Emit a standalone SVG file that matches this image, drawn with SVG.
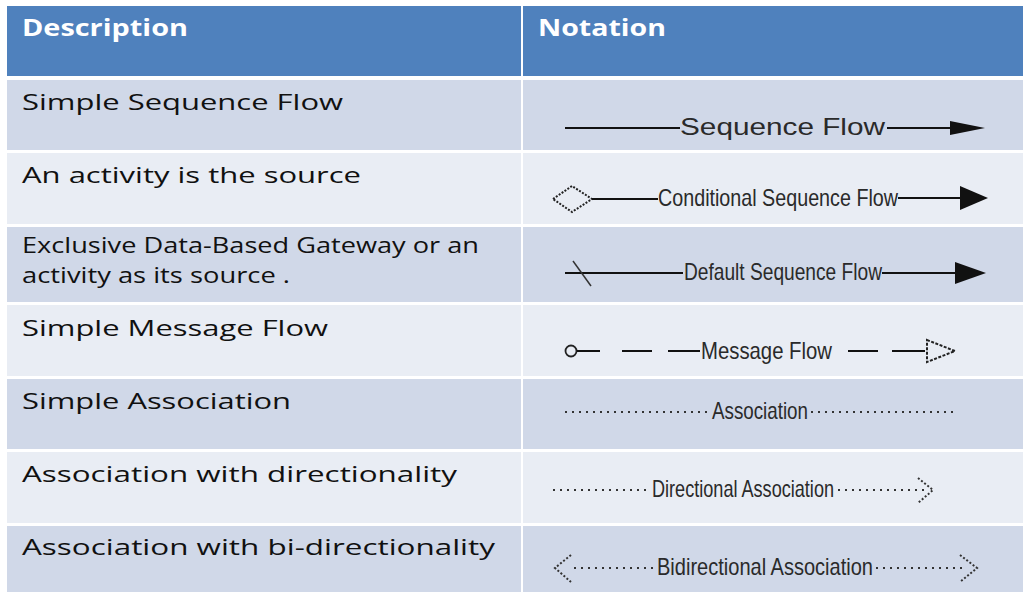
<svg xmlns="http://www.w3.org/2000/svg" width="1025" height="592" viewBox="0 0 1025 592">
<style>
.hdr{fill:#4f81bd}
.dark{fill:#d0d8e8}
.light{fill:#e9edf4}
.ht{font-family:"Open Sans","Liberation Sans",sans-serif;font-weight:bold;font-size:23px;fill:#fff}
.dt{font-family:"Open Sans","Liberation Sans",sans-serif;font-size:22px;fill:#111}
.nt{font-family:"Liberation Sans",Arial,sans-serif;font-size:24px;fill:#2a2a2a}
.ln{stroke:#111;stroke-width:2;fill:none}
.dot{stroke:#333;stroke-width:1.8;fill:none;stroke-dasharray:2 5}
.dotarr{stroke:#333;stroke-width:2;fill:none;stroke-dasharray:2 2}
</style>
<rect x="0" y="0" width="1025" height="592" fill="#fff"/>
<g id="header">
<rect class="hdr" x="7" y="6" width="514" height="70"/>
<rect class="hdr" x="523" y="6" width="500" height="70"/>
<text class="ht" x="22" y="36" textLength="166" lengthAdjust="spacingAndGlyphs">Description</text>
<text class="ht" x="538" y="36" textLength="128" lengthAdjust="spacingAndGlyphs">Notation</text>
</g>
<g id="row1">
<rect class="dark" x="7" y="80" width="514" height="70"/>
<rect class="dark" x="523" y="80" width="500" height="70"/>
<text class="dt" x="22" y="110" textLength="321" lengthAdjust="spacingAndGlyphs">Simple Sequence Flow</text>
</g>
<g id="row2">
<rect class="light" x="7" y="153" width="514" height="71"/>
<rect class="light" x="523" y="153" width="500" height="71"/>
<text class="dt" x="22" y="183" textLength="339" lengthAdjust="spacingAndGlyphs">An activity is the source</text>
</g>
<g id="row3">
<rect class="dark" x="7" y="227" width="514" height="75"/>
<rect class="dark" x="523" y="227" width="500" height="75"/>
<text class="dt" x="22" y="253" font-size="20" textLength="457" lengthAdjust="spacingAndGlyphs">Exclusive Data-Based Gateway or an</text>
<text class="dt" x="22" y="283" font-size="20" textLength="268" lengthAdjust="spacingAndGlyphs">activity as its source .</text>
</g>
<g id="row4">
<rect class="light" x="7" y="305" width="514" height="71"/>
<rect class="light" x="523" y="305" width="500" height="71"/>
<text class="dt" x="22" y="336" textLength="306" lengthAdjust="spacingAndGlyphs">Simple Message Flow</text>
</g>
<g id="row5">
<rect class="dark" x="7" y="379" width="514" height="70"/>
<rect class="dark" x="523" y="379" width="500" height="70"/>
<text class="dt" x="22" y="409" textLength="269" lengthAdjust="spacingAndGlyphs">Simple Association</text>
</g>
<g id="row6">
<rect class="light" x="7" y="452" width="514" height="71"/>
<rect class="light" x="523" y="452" width="500" height="71"/>
<text class="dt" x="22" y="482" textLength="435" lengthAdjust="spacingAndGlyphs">Association with directionality</text>
</g>
<g id="row7">
<rect class="dark" x="7" y="526" width="514" height="66"/>
<rect class="dark" x="523" y="526" width="500" height="66"/>
<text class="dt" x="22" y="555" textLength="473" lengthAdjust="spacingAndGlyphs">Association with bi-directionality</text>
</g>
<g id="notation-labels">
<text class="nt" x="680" y="135" font-size="22" textLength="205" lengthAdjust="spacingAndGlyphs">Sequence Flow</text>
<text class="nt" x="658" y="206" textLength="240" lengthAdjust="spacingAndGlyphs">Conditional Sequence Flow</text>
<text class="nt" x="684" y="280" textLength="198" lengthAdjust="spacingAndGlyphs">Default Sequence Flow</text>
<text class="nt" x="701" y="359" textLength="131" lengthAdjust="spacingAndGlyphs">Message Flow</text>
<text class="nt" x="712" y="419" textLength="96" lengthAdjust="spacingAndGlyphs">Association</text>
<text class="nt" x="652" y="497" textLength="182" lengthAdjust="spacingAndGlyphs">Directional Association</text>
<text class="nt" x="657" y="575" textLength="216" lengthAdjust="spacingAndGlyphs">Bidirectional Association</text>
</g>
<g id="connectors">
<line class="ln" x1="565" y1="128" x2="680" y2="128"/>
<line class="ln" x1="887" y1="128" x2="952" y2="128"/>
<path d="M950,121 L985,128 L950,135 z" fill="#111"/>
<path d="M553,199 L572,186 L592,199 L572,212 z" fill="none" stroke="#222" stroke-width="2" stroke-dasharray="2 1.5"/>
<line class="ln" x1="592" y1="199" x2="658" y2="199"/>
<line class="ln" x1="898" y1="198" x2="962" y2="198"/>
<path d="M960,186 L988,198 L960,210 z" fill="#111"/>
<line class="ln" x1="565" y1="273" x2="683" y2="273"/>
<line x1="573" y1="261" x2="591" y2="286" stroke="#333" stroke-width="1.5"/>
<line class="ln" x1="882" y1="273" x2="958" y2="273"/>
<path d="M955,262 L986,273 L955,284 z" fill="#111"/>
<circle cx="571" cy="351" r="5.5" fill="none" stroke="#222" stroke-width="1.8"/>
<line class="ln" x1="577" y1="351" x2="600" y2="351"/>
<line class="ln" x1="622" y1="351" x2="652" y2="351"/>
<line class="ln" x1="668" y1="351" x2="700" y2="351"/>
<line class="ln" x1="848" y1="351" x2="878" y2="351"/>
<line class="ln" x1="892" y1="351" x2="925" y2="351"/>
<path d="M927,340 L955,351 L927,362 z" fill="none" stroke="#222" stroke-width="2" stroke-dasharray="3 1.5"/>
<line class="dot" x1="565" y1="412" x2="710" y2="412"/>
<line class="dot" x1="811" y1="412" x2="955" y2="412"/>
<line class="dot" x1="553" y1="490" x2="650" y2="490"/>
<line class="dot" x1="838" y1="490" x2="925" y2="490"/>
<path class="dotarr" d="M918,478 L933,490 L918,503"/>
<path class="dotarr" d="M571,555 L555,568 L571,582"/>
<line class="dot" x1="574" y1="568" x2="655" y2="568"/>
<line class="dot" x1="876" y1="568" x2="965" y2="568"/>
<path class="dotarr" d="M960,555 L977,568 L960,582"/>
</g>
</svg>
